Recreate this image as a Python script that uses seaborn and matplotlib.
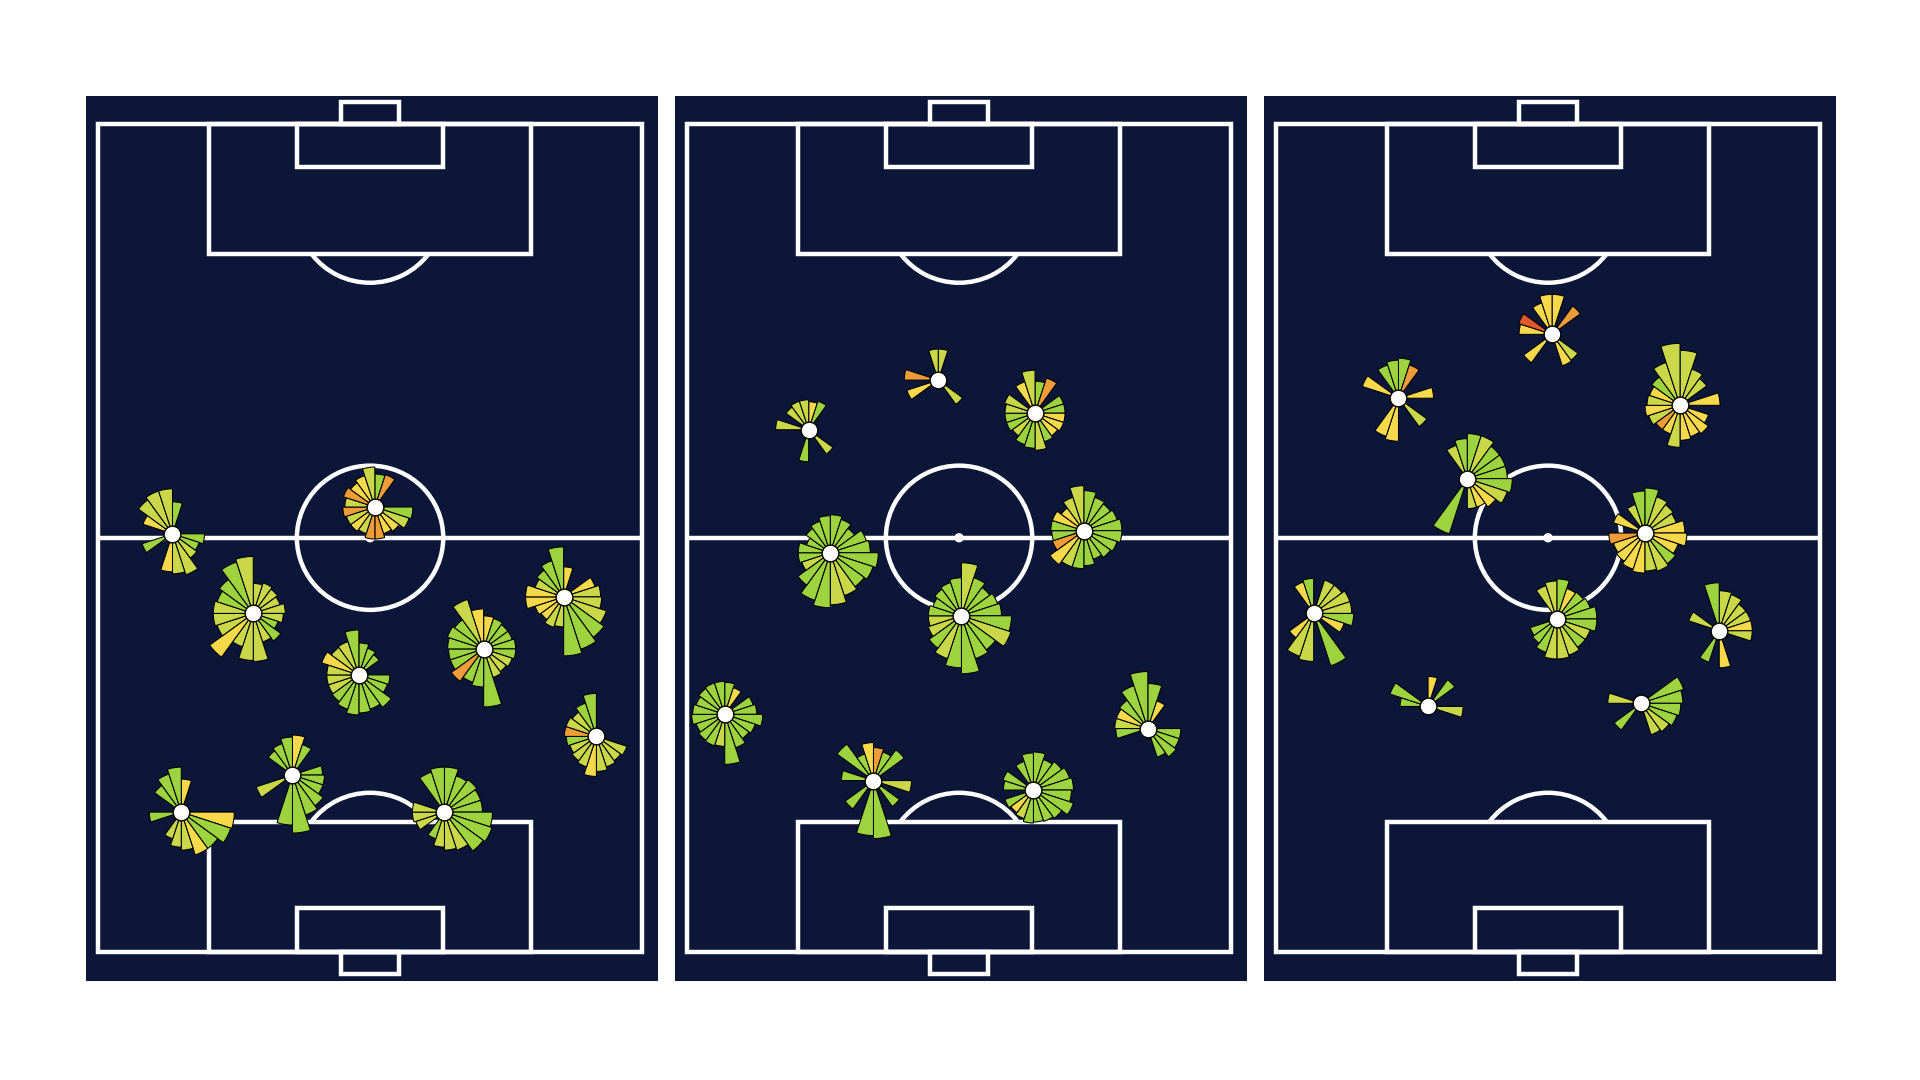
import numpy as np
import matplotlib
matplotlib.use('Agg')
import matplotlib.pyplot as plt
from matplotlib.patches import Rectangle, Arc, Circle
import seaborn as sns

# sonar bins: centre of each 18 degree slice, clockwise from "up the pitch"
angles_deg = [9, 27, 45, 63, 81, 99, 117, 135, 153, 171,
              189, 207, 225, 243, 261, 279, 297, 315, 333, 351]

# ---- pitch 1 -------------------------------------------------------------
pitch1_x = [9.3, 34.6, 19.4, 32.6, 48.2, 58.2, 62.3, 10.4, 24.3, 43.3]
pitch1_y = [53.0, 56.4, 42.9, 35.1, 38.4, 45.0, 27.3, 17.7, 22.4, 17.7]
pitch1_lengths = [
    [32, 0, 0, 0, 0, 32, 28, 30, 43, 40, 38, 0, 0, 32, 0, 0, 31, 42, 45, 45],
    [33, 34, 0, 0, 0, 38, 36, 30, 28, 32, 32, 28, 30, 30, 32, 30, 33, 30, 33, 40],
    [30, 32, 30, 28, 32, 30, 26, 34, 30, 48, 47, 35, 54, 38, 40, 40, 38, 42, 54, 57],
    [32, 28, 25, 0, 0, 31, 30, 40, 36, 38, 40, 36, 33, 32, 32, 32, 39, 34, 35, 45],
    [33, 32, 30, 30, 32, 32, 30, 28, 30, 58, 38, 35, 40, 35, 35, 36, 38, 36, 52, 40],
    [30, 0, 0, 33, 37, 38, 45, 50, 55, 59, 30, 32, 28, 30, 38, 38, 30, 33, 38, 50],
    [0, 0, 0, 0, 0, 0, 32, 30, 32, 35, 40, 32, 30, 28, 30, 32, 32, 30, 35, 43],
    [33, 0, 0, 0, 0, 53, 52, 45, 45, 38, 35, 28, 0, 0, 32, 0, 0, 33, 40, 45],
    [40, 32, 0, 0, 30, 32, 32, 38, 42, 58, 50, 0, 0, 38, 0, 0, 0, 30, 33, 38],
    [45, 38, 40, 38, 38, 48, 50, 48, 40, 38, 35, 28, 0, 30, 32, 32, 0, 0, 42, 45],
]
pitch1_rates = [
    [.92, 0, 0, 0, 0, .92, .92, .82, .82, .82, .72, 0, 0, .92, 0, 0, .72, .82, .82, .82],
    [.92, .62, 0, 0, 0, .92, .82, .72, .72, .62, .62, .82, .72, .82, .62, .82, .62, .72, .72, .82],
    [.82, .82, .82, .82, .82, .82, .92, .92, .82, .82, .82, .82, .72, .82, .82, .82, .92, .92, .92, .82],
    [.92, .92, .92, 0, 0, .92, .92, .92, .92, .92, .92, .92, .92, .82, .82, .82, .72, .82, .82, .92],
    [.72, .92, .92, .92, .92, .92, .82, .82, .82, .92, .92, .92, .62, .92, .92, .92, .92, .92, .82, .72],
    [.72, 0, 0, .72, .82, .82, .82, .92, .92, .92, .82, .82, .72, .72, .72, .72, .82, .92, .92, .92],
    [0, 0, 0, 0, 0, 0, .82, .82, .82, .82, .72, .82, .82, .82, .92, .62, .82, .82, .92, .92],
    [.72, 0, 0, 0, 0, .72, .92, .92, .72, .82, .82, .82, 0, 0, .92, 0, 0, .92, .92, .92],
    [.72, .92, 0, 0, .92, .92, .92, .92, .92, .92, .92, 0, 0, .82, 0, 0, 0, .92, .92, .92],
    [.92, .92, .92, .92, .92, .92, .92, .92, .82, .82, .82, .92, 0, .82, .82, .82, 0, 0, .92, .92],
]

# ---- pitch 2 -------------------------------------------------------------
pitch2_x = [31.4, 43.5, 15.2, 49.6, 17.9, 34.3, 4.7, 57.6, 23.3, 43.3]
pitch2_y = [72.5, 68.3, 66.2, 53.4, 50.6, 42.6, 30.1, 28.3, 21.7, 20.5]
pitch2_lengths = [
    [31, 0, 0, 0, 0, 0, 0, 30, 0, 0, 0, 0, 0, 33, 0, 34, 0, 0, 0, 31],
    [32, 37, 0, 30, 30, 30, 30, 28, 30, 37, 35, 33, 28, 30, 30, 30, 32, 0, 33, 43],
    [28, 30, 0, 0, 0, 0, 0, 30, 0, 0, 32, 0, 0, 0, 0, 33, 0, 28, 30, 30],
    [40, 35, 33, 35, 38, 38, 35, 33, 30, 35, 38, 38, 42, 33, 32, 33, 33, 28, 35, 45],
    [38, 35, 30, 38, 40, 48, 45, 42, 45, 52, 55, 50, 40, 30, 32, 32, 25, 30, 33, 37],
    [53, 40, 35, 38, 40, 50, 52, 42, 45, 58, 52, 45, 40, 35, 33, 33, 30, 33, 35, 38],
    [32, 28, 0, 30, 32, 38, 32, 30, 35, 50, 32, 33, 32, 30, 33, 32, 30, 32, 33, 33],
    [45, 29, 0, 0, 0, 33, 33, 35, 30, 0, 0, 0, 0, 0, 32, 33, 33, 35, 45, 57],
    [33, 30, 38, 0, 0, 38, 0, 32, 0, 58, 55, 0, 35, 0, 0, 32, 0, 45, 28, 38],
    [38, 32, 35, 38, 40, 38, 42, 35, 33, 32, 33, 30, 28, 30, 0, 30, 32, 0, 30, 37],
]
pitch2_rates = [
    [.82, 0, 0, 0, 0, 0, 0, .82, 0, 0, 0, 0, 0, .72, 0, .62, 0, 0, 0, .82],
    [.92, .62, 0, .92, .92, .72, .72, .72, .92, .82, .92, .92, .82, .92, .92, .82, .82, 0, .72, .82],
    [.72, .92, 0, 0, 0, 0, 0, .82, 0, 0, .92, 0, 0, 0, 0, .82, 0, .82, .82, .82],
    [.92, .92, .92, .92, .92, .92, .92, .92, .92, .92, .92, .82, .72, .62, .92, .92, .72, .72, .82, .82],
    [.92, .92, .92, .92, .92, .92, .92, .92, .82, .82, .92, .92, .92, .82, .92, .92, .92, .92, .92, .92],
    [.82, .92, .92, .92, .92, .92, .82, .92, .92, .92, .92, .82, .92, .82, .82, .92, .92, .92, .92, .92],
    [.92, .72, 0, .92, .92, .92, .92, .92, .92, .92, .82, .92, .92, .92, .92, .92, .92, .92, .92, .92],
    [.92, .72, 0, 0, 0, .92, .92, .92, .92, 0, 0, 0, 0, 0, .92, .82, .72, .92, .92, .92],
    [.62, .92, .92, 0, 0, .82, 0, .92, 0, .92, .92, 0, .92, 0, 0, .92, 0, .92, .92, .72],
    [.92, .92, .92, .92, .92, .92, .92, .92, .92, .92, .92, .82, .72, .92, 0, .92, .92, 0, .92, .92],
]

# ---- pitch 3 -------------------------------------------------------------
pitch3_x = [34.5, 15.3, 50.5, 23.9, 46.1, 4.7, 35.1, 55.4, 19.0, 45.6]
pitch3_y = [78.3, 70.2, 69.3, 60.0, 53.1, 42.9, 42.2, 40.7, 31.1, 31.5]
pitch3_lengths = [
    [40, 0, 35, 0, 0, 0, 0, 32, 33, 0, 0, 0, 35, 0, 0, 33, 35, 0, 33, 40],
    [40, 35, 0, 0, 35, 0, 0, 35, 0, 0, 43, 40, 0, 0, 0, 0, 38, 0, 35, 38],
    [55, 38, 33, 0, 40, 0, 30, 35, 33, 35, 42, 30, 30, 33, 35, 33, 32, 35, 45, 62],
    [45, 45, 40, 40, 40, 45, 42, 35, 30, 30, 0, 58, 0, 0, 0, 0, 0, 0, 35, 40],
    [45, 38, 35, 33, 40, 42, 35, 38, 40, 38, 40, 38, 35, 33, 36, 0, 33, 0, 30, 42],
    [0, 35, 35, 38, 38, 40, 32, 0, 55, 0, 48, 45, 30, 0, 0, 0, 0, 0, 33, 35],
    [40, 32, 33, 35, 40, 40, 35, 35, 38, 40, 40, 35, 30, 28, 0, 0, 0, 0, 35, 38],
    [40, 38, 33, 33, 33, 33, 0, 0, 0, 37, 0, 33, 0, 0, 0, 0, 32, 0, 0, 48],
    [30, 0, 33, 0, 0, 35, 0, 0, 0, 0, 0, 0, 0, 0, 0, 28, 40, 0, 0, 0],
    [0, 0, 0, 45, 42, 40, 38, 35, 33, 0, 0, 0, 33, 0, 0, 33, 0, 0, 0, 0],
]
pitch3_rates = [
    [.72, 0, .62, 0, 0, 0, 0, .82, .72, 0, 0, 0, .72, 0, 0, .72, .52, 0, .72, .72],
    [.92, .62, 0, 0, .72, 0, 0, .82, 0, 0, .72, .72, 0, 0, 0, 0, .72, 0, .92, .92],
    [.82, .82, .82, 0, .72, 0, .72, .72, .72, .72, .82, .72, .62, .82, .72, .82, .72, .92, .82, .82],
    [.92, .82, .92, .92, .92, .92, .82, .72, .72, .82, 0, .92, 0, 0, 0, 0, 0, 0, .82, .92],
    [.92, .82, .82, .82, .72, .72, .72, .92, .82, .82, .72, .72, .72, .72, .62, 0, .72, 0, .82, .92],
    [0, .82, .82, .82, .82, .92, .72, 0, .92, 0, .82, .82, .72, 0, 0, 0, 0, 0, .72, .92],
    [.92, .72, .92, .92, .92, .92, .82, .92, .82, .82, .82, .92, .92, .92, 0, 0, 0, 0, .82, .82],
    [.82, .82, .82, .82, .72, .82, 0, 0, 0, .72, 0, .92, 0, 0, 0, 0, .82, 0, 0, .92],
    [.72, 0, .92, 0, 0, .82, 0, 0, 0, 0, 0, 0, 0, 0, 0, .92, .92, 0, 0, 0],
    [0, 0, 0, .92, .92, .92, .92, .82, .82, 0, 0, 0, .92, 0, 0, .82, 0, 0, 0, 0],
]


sns.set_theme(style='white')

NAVY = '#0b1639'
LINE = 3.2
W, H = 1920, 1080
S = 70  # half size (px) of each sonar axes, bar lengths are in px

cmap = sns.blend_palette(['#e4572b', '#ee9d38', '#f5d94b', '#c9d748', '#9cd33e'],
                         as_cmap=True)
norm = plt.Normalize(0.52, 0.92)

fig = plt.figure(figsize=(19.2, 10.8), dpi=100)
fig.patch.set_facecolor('white')


def draw_pitch(ax):
    ax.set_facecolor(NAVY)
    ax.set_xlim(-1.55, 69.95)
    ax.set_ylim(-3.7, 108.6)
    ax.set_xticks([])
    ax.set_yticks([])
    for sp in ax.spines.values():
        sp.set_visible(False)
    kw = dict(fill=False, edgecolor='white', linewidth=LINE, joinstyle='miter')
    ax.add_patch(Rectangle((0, 0), 68, 105, **kw))
    ax.plot([0, 68], [52.5, 52.5], color='white', lw=LINE, solid_capstyle='butt')
    ax.add_patch(Circle((34, 52.5), 9.15, **kw))
    ax.add_patch(Circle((34, 52.5), 0.5, color='white'))
    for y0, sign in [(0, 1), (105, -1)]:
        ax.add_patch(Rectangle((13.84, y0), 40.32, 16.5 * sign, **kw))
        ax.add_patch(Rectangle((24.84, y0), 18.32, 5.5 * sign, **kw))
        ax.add_patch(Rectangle((30.34, y0), 7.32, -2.8 * sign, **kw))
    ax.add_patch(Arc((34, 11), 18.3, 18.3, theta1=36.9, theta2=143.1,
                     edgecolor='white', lw=LINE))
    ax.add_patch(Arc((34, 94), 18.3, 18.3, theta1=216.9, theta2=323.1,
                     edgecolor='white', lw=LINE))


theta = np.deg2rad(angles_deg)
bar_w = np.deg2rad(18)


def draw_sonars(ax, xs, ys, lengths, rates):
    for x, y, ln, rt in zip(xs, ys, lengths, rates):
        px, py = ax.transData.transform((x, y))
        pax = fig.add_axes([(px - S) / W, (py - S) / H, 2 * S / W, 2 * S / H],
                           projection='polar')
        pax.set_theta_zero_location('N')
        pax.set_theta_direction(-1)
        ln = np.array(ln, dtype=float)
        rt = np.array(rt, dtype=float)
        keep = ln > 0
        pax.bar(theta[keep], ln[keep], width=bar_w, bottom=0,
                color=cmap(norm(rt[keep])), edgecolor='black', linewidth=0.75)
        pax.scatter([0], [0], s=145, c='white', edgecolors='black',
                    linewidths=1.0, zorder=5, clip_on=False)
        pax.set_ylim(0, S)
        pax.axis('off')


pitches = [
    (pitch1_x, pitch1_y, pitch1_lengths, pitch1_rates),
    (pitch2_x, pitch2_y, pitch2_lengths, pitch2_rates),
    (pitch3_x, pitch3_y, pitch3_lengths, pitch3_rates),
]

axes = []
for i in range(3):
    ax = fig.add_axes([0.04464 + i * 0.30677, 0.09185, 0.29786, 0.81972])
    draw_pitch(ax)
    axes.append(ax)

for ax, (xs, ys, lens, rates) in zip(axes, pitches):
    draw_sonars(ax, xs, ys, lens, rates)

fig.savefig('out.png', dpi=100)
